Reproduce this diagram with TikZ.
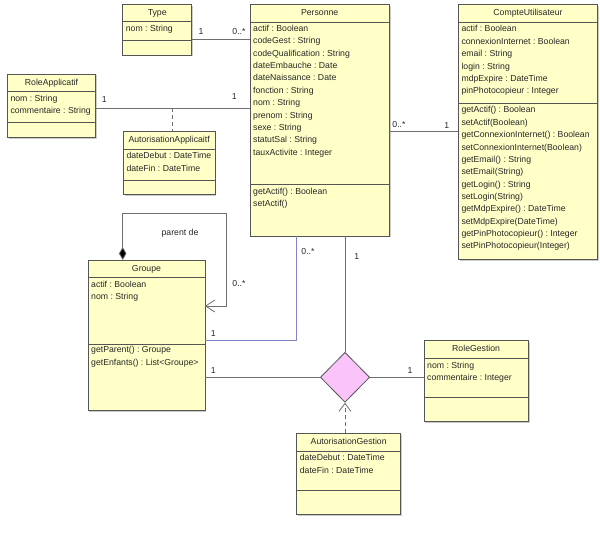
\documentclass[tikz,border=0pt]{standalone}
\usepackage{fontspec}
\setmainfont{Liberation Sans}
\usetikzlibrary{arrows.meta,shapes.geometric,shadows}
\frenchspacing

\definecolor{boxfill}{RGB}{255,255,200}
\definecolor{boxedge}{RGB}{85,85,85}
\definecolor{wire}{RGB}{110,110,110}
\definecolor{bluewire}{RGB}{130,130,205}
\definecolor{assocfill}{RGB}{250,195,250}
\definecolor{txt}{RGB}{40,40,40}

\tikzset{
  classbox/.style={draw=boxedge, fill=boxfill, line width=0.8pt, anchor=north west,
    inner sep=0pt, outer sep=0pt,
    drop shadow={shadow xshift=1.3pt, shadow yshift=-1.3pt, fill=black!45, opacity=0.45}},
  boxline/.style={draw=boxedge, line width=0.8pt},
  umltext/.style={text=txt, inner sep=0pt, text height=6.4pt, text depth=1.9pt,
    font=\fontsize{8.7}{10}\selectfont},
  classtitle/.style={umltext},
  member/.style={umltext, anchor=west},
  mult/.style={umltext},
  wireline/.style={draw=wire, line width=0.8pt},
  opentip/.style={-{Straight Barb[length=8pt,width=12pt]}},
}

% class box: name, left, top, right, bottom, title, first separator, second separator
\newcommand\umlclass[8]{%
  \node[classbox, minimum width={(#4-#2)*1pt}, minimum height={(#5-#3)*1pt}] (#1) at (#2,#3) {};
  \node[classtitle] (#1-title) at ({(#2+#4)/2},{(#3+#7)/2}) {#6};
  \draw[boxline] (#1.west |- 0,#7) -- (#1.east |- 0,#7);
  \draw[boxline] (#1.west |- 0,#8) -- (#1.east |- 0,#8);
}
% member rows: name prefix, left, centre of the first row, list
\newcommand\umlrows[4]{%
  \foreach \t [count=\i from 0] in {#4}
    \node[member] (#1-\i) at ({#2+3},{#3+\i*12.36}) {\t};
}

\begin{document}
\begin{tikzpicture}[x=1pt,y=-1pt]
\useasboundingbox[fill=white] (0,0) rectangle (600,535);

% ---- classes ----
\umlclass{type}{122.7}{4.3}{191.7}{55}{Type}{21.7}{40}
\umlrows{type-a}{122.7}{29.7}{nom : String}

\umlclass{personne}{250}{4.3}{389.3}{236}{Personne}{22}{184}
\umlrows{personne-a}{250}{29.3}{actif : Boolean, codeGest : String, codeQualification : String,
  dateEmbauche : Date, dateNaissance : Date, fonction : String, nom : String,
  prenom : String, sexe : String, statutSal : String, tauxActivite : Integer}
\umlrows{personne-m}{250}{192.3}{getActif() : Boolean, setActif()}

\umlclass{compte}{458.3}{4.3}{597.7}{259.3}{CompteUtilisateur}{22}{103.3}
\umlrows{compte-a}{458.3}{29.7}{actif : Boolean, connexionInternet : Boolean, email : String,
  login : String, mdpExpire : DateTime, pinPhotocopieur : Integer}
\umlrows{compte-m}{458.3}{110.7}{getActif() : Boolean, setActif(Boolean),
  getConnexionInternet() : Boolean, setConnexionInternet(Boolean), getEmail() : String,
  setEmail(String), getLogin() : String, setLogin(String), getMdpExpire() : DateTime,
  setMdpExpire(DateTime), getPinPhotocopieur() : Integer, setPinPhotocopieur(Integer)}

\umlclass{roleapp}{7.3}{74}{95.7}{137.7}{RoleApplicatif}{91.7}{122.7}
\umlrows{roleapp-a}{7.3}{99}{nom : String, commentaire : String}

\umlclass{autapp}{123.3}{131.7}{215}{194.3}{AutorisationApplicaitf}{149.3}{180}
\umlrows{autapp-a}{123.3}{156.7}{dateDebut : DateTime, dateFin : DateTime}

\umlclass{groupe}{88}{260}{205}{410.7}{Groupe}{277.7}{344}
\umlrows{groupe-a}{88}{285}{actif : Boolean, nom : String}
\umlrows{groupe-m}{88}{350.7}{getParent() : Groupe, getEnfants() : List<Groupe>}

\umlclass{rolegest}{424}{340.7}{528.3}{421.7}{RoleGestion}{358.3}{397.3}
\umlrows{rolegest-a}{424}{366}{nom : String, commentaire : Integer}

\umlclass{autgest}{296.7}{433.3}{400.7}{514.3}{AutorisationGestion}{451}{490.7}
\umlrows{autgest-a}{296.7}{458.7}{dateDebut : DateTime, dateFin : DateTime}

% ---- n-ary association diamond ----
\node[diamond, draw=boxedge, fill=assocfill, line width=0.8pt, inner sep=0pt,
  minimum width=49.3pt, minimum height=50pt] (assoc) at (345,377.3) {};

% ---- associations ----
\draw[wireline] (type.east |- 0,39) -- (personne.west |- 0,39);
\draw[wireline] (roleapp.east |- 0,108.3) -- (personne.west |- 0,108.3);
\coordinate (assocclass) at (172,108.3);
\draw[wireline, dashed, dash pattern=on 4pt off 3pt] (assocclass) -- (assocclass |- autapp.north);
\draw[wireline] (personne.east |- 0,131.7) -- (compte.west |- 0,131.7);

% composition of Groupe with itself
\draw[wireline, {Diamond[length=13pt,width=7.5pt,fill=black]}-{Straight Barb[length=9pt,width=12pt]}]
  ([xshift=34.7pt]groupe.north west) |- (226.7,213.3) |- (groupe.east |- 0,306);

% Personne to Groupe
\draw[draw=bluewire, line width=0.8pt]
  ([xshift=46.7pt]personne.south west) |- (groupe.east |- 0,340);

% legs of the diamond
\draw[wireline] (assoc.north |- personne.south) -- (assoc.north);
\draw[wireline] (groupe.east |- assoc.west) -- (assoc.west);
\draw[wireline] (assoc.east) -- (rolegest.west |- assoc.east);
\draw[wireline, dashed, dash pattern=on 4pt off 3pt, opentip] (assoc.south |- autgest.north) -- (assoc.south);

% ---- multiplicities and role names ----
\node[mult] (m-type1) at (201,32) {1};
\node[mult] (m-type2) at (239,32) {0..*};
\node[mult] (m-ra1) at (104.3,100) {1};
\node[mult] (m-ra2) at (234.3,97.7) {1};
\node[mult] (m-cu1) at (399,125.7) {0..*};
\node[mult] (m-cu2) at (446.7,126) {1};
\node[mult] (m-parent) at (180,233.3) {parent de};
\node[mult] (m-self) at (239,284.3) {0..*};
\node[mult] (m-pg1) at (308,252.3) {0..*};
\node[mult] (m-pg2) at (213.3,334.3) {1};
\node[mult] (m-pd) at (356.7,257.3) {1};
\node[mult] (m-gd) at (213.3,371) {1};
\node[mult] (m-rd) at (410,371) {1};
\end{tikzpicture}
\end{document}
